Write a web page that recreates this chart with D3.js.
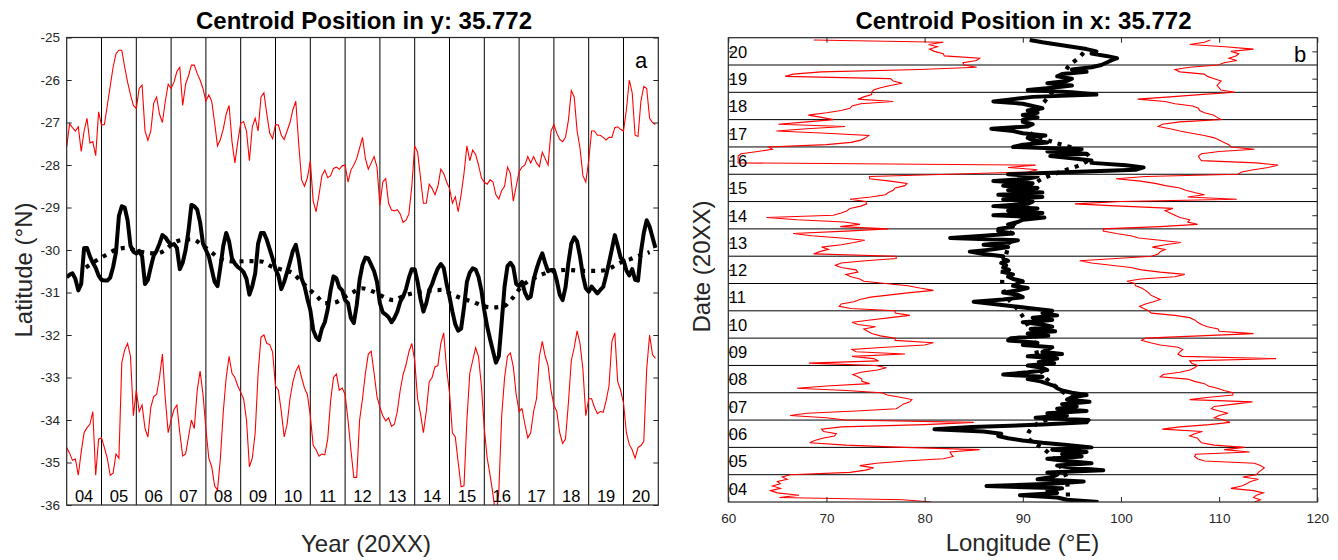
<!DOCTYPE html>
<html>
<head>
<meta charset="utf-8">
<script src="https://cdn.jsdelivr.net/npm/d3@7"></script>
<style>
  html, body { margin: 0; padding: 0; background: #fff; }
  svg { display: block; font-family: "Liberation Sans", Arial, Helvetica, sans-serif; }
</style>
</head>
<body>
<svg id="chart" width="1338" height="560"></svg>
<script>
// ---------------- data ----------------
const firstYear = 2004;
const lastYear = 2021;
const yearLabels = ["04","05","06","07","08","09","10","11","12","13","14","15","16","17","18","19","20"];
const latTicks = [-25, -26, -27, -28, -29, -30, -31, -32, -33, -34, -35, -36];
const lonTicks = [60, 70, 80, 90, 100, 110, 120];

// monthly latitude of the northern edge (°N), Jan 2004 .. Dec 2020
const northEdgeLat = [
  -27.57,-27.03,-27.12,-27.2,-27.1,-27.68,-27.2,-26.9,-27.48,-27.45,-27.78,-26.75,
  -27.06,-27.05,-26.6,-26.15,-25.7,-25.38,-25.3,-25.3,-25.7,-26.05,-26.35,-26.6,
  -26.67,-26.2,-26.12,-27.2,-27.42,-27.2,-26.55,-26.4,-26.8,-27.0,-26.5,-26.1,
  -26.2,-26.05,-25.8,-25.7,-26.6,-26.1,-25.9,-25.65,-25.65,-25.85,-26.0,-26.2,
  -26.5,-26.35,-26.5,-27.0,-27.55,-27.4,-27.15,-26.8,-26.6,-27.45,-27.95,-27.45,
  -27.02,-26.98,-27.2,-27.9,-27.1,-26.9,-27.2,-26.4,-26.3,-26.8,-27.25,-27.38,
  -27.05,-27.06,-27.3,-27.4,-27.2,-27.0,-26.7,-26.5,-27.5,-28.35,-28.5,-28.3,
  -27.9,-28.85,-29.1,-28.7,-28.25,-28.12,-28.3,-28.25,-28.08,-28.05,-28.1,-28.02,
  -28.0,-28.4,-28.12,-28.0,-27.85,-27.6,-27.35,-27.85,-28.1,-27.95,-27.8,-28.05,
  -28.95,-28.4,-28.32,-28.9,-29.06,-29.08,-29.05,-29.15,-29.35,-29.3,-29.15,-28.5,
  -27.55,-27.7,-28.3,-28.9,-28.9,-28.45,-28.55,-28.7,-28.5,-28.1,-28.2,-28.4,
  -28.55,-28.9,-28.75,-29.1,-28.7,-28.2,-27.55,-27.9,-27.65,-27.75,-28.0,-28.3,
  -28.4,-28.45,-28.35,-28.4,-28.7,-28.8,-28.6,-28.5,-28.05,-28.2,-28.85,-28.5,
  -28.15,-28.05,-28.0,-27.8,-27.95,-27.8,-27.95,-28.04,-27.7,-27.85,-28.0,-27.2,
  -27.05,-27.25,-27.4,-27.45,-27.35,-26.95,-26.25,-26.4,-27.2,-27.6,-28.25,-28.4,
  -27.9,-27.2,-27.2,-27.3,-27.3,-27.35,-27.41,-27.35,-27.35,-27.12,-27.1,-27.16,
  -27.2,-26.7,-26.0,-26.3,-27.3,-27.33,-26.5,-26.15,-26.2,-26.9,-27.0,-27.05
];

// monthly centroid latitude (°N)
const centroidLat = [
  -30.64,-30.58,-30.55,-30.68,-30.95,-30.8,-29.95,-29.95,-30.15,-30.3,-30.42,-30.6,
  -30.7,-30.72,-30.72,-30.65,-30.4,-30.05,-29.2,-28.97,-29.0,-29.3,-29.9,-30.04,
  -30.08,-30.02,-30.15,-30.8,-30.7,-30.4,-30.13,-30.02,-29.85,-29.65,-29.7,-29.8,
  -29.88,-29.86,-29.95,-30.45,-30.3,-30.0,-29.55,-28.94,-28.97,-29.05,-29.35,-29.85,
  -30.0,-30.15,-30.45,-30.75,-30.85,-30.4,-29.9,-29.6,-29.8,-30.2,-30.32,-30.4,
  -30.45,-30.52,-30.68,-31.05,-30.85,-30.55,-29.85,-29.6,-29.6,-29.76,-29.98,-30.2,
  -30.45,-30.6,-30.92,-30.75,-30.52,-30.28,-30.02,-29.88,-30.2,-30.67,-30.85,-31.15,
  -31.41,-31.88,-32.05,-32.12,-31.85,-31.7,-31.4,-30.95,-30.62,-30.67,-30.88,-30.95,
  -31.18,-31.25,-31.6,-31.72,-31.3,-30.7,-30.35,-30.18,-30.2,-30.35,-30.5,-30.75,
  -31.25,-31.47,-31.52,-31.58,-31.7,-31.6,-31.45,-31.22,-31.1,-30.92,-30.65,-30.45,
  -30.45,-30.75,-31.15,-31.45,-31.25,-30.95,-30.8,-30.6,-30.43,-30.33,-30.42,-30.8,
  -31.1,-31.45,-31.75,-31.9,-31.85,-31.35,-30.75,-30.53,-30.43,-30.46,-30.63,-30.95,
  -31.42,-31.8,-32.1,-32.38,-32.65,-32.5,-31.7,-30.85,-30.38,-30.3,-30.4,-30.8,
  -30.85,-30.75,-31.0,-31.14,-31.1,-30.7,-30.45,-30.24,-30.08,-30.31,-30.5,-30.47,
  -30.47,-30.72,-31.05,-31.18,-30.88,-30.3,-29.85,-29.7,-29.8,-30.15,-30.6,-30.9,
  -30.98,-30.86,-30.94,-31.02,-30.94,-30.87,-30.6,-30.3,-29.98,-29.65,-29.9,-30.18,
  -30.24,-30.48,-30.6,-30.45,-30.7,-30.72,-30.05,-29.6,-29.3,-29.45,-29.7,-29.95
];

// monthly latitude of the southern edge (°N)
const southEdgeLat = [
  -34.65,-34.78,-34.95,-34.92,-35.3,-34.75,-34.3,-34.18,-34.1,-33.8,-35.3,-34.45,
  -34.42,-34.65,-34.9,-35.3,-35.25,-34.8,-34.9,-32.65,-32.35,-32.2,-32.5,-33.9,
  -33.3,-33.8,-33.65,-34.2,-34.4,-33.7,-33.45,-33.4,-33.0,-32.45,-33.5,-34.3,
  -34.0,-33.75,-33.65,-34.3,-34.85,-34.8,-34.4,-34.0,-34.2,-33.3,-32.85,-33.4,
  -34.2,-34.9,-35.1,-35.55,-35.65,-34.9,-33.8,-33.0,-32.5,-32.9,-33.0,-33.2,
  -33.35,-33.5,-34.0,-35.1,-34.9,-34.3,-32.9,-32.05,-32.0,-32.2,-32.22,-32.4,
  -33.2,-33.3,-33.8,-34.4,-34.1,-33.5,-33.1,-32.85,-32.72,-33.0,-33.25,-33.4,
  -33.9,-34.6,-34.7,-34.85,-34.8,-34.82,-34.45,-33.55,-33.0,-32.92,-33.3,-33.25,
  -33.4,-34.0,-34.7,-35.35,-35.35,-34.0,-33.5,-32.9,-32.45,-32.38,-32.9,-33.45,
  -33.7,-33.9,-34.02,-33.95,-34.15,-34.1,-33.8,-33.3,-32.93,-32.7,-32.4,-32.2,
  -32.6,-33.5,-33.85,-34.3,-33.8,-33.1,-33.0,-32.75,-32.72,-32.2,-31.95,-32.8,
  -33.35,-34.3,-34.4,-35.0,-35.57,-35.55,-34.0,-32.9,-32.6,-32.3,-32.5,-33.2,
  -34.2,-34.9,-35.3,-35.75,-36.3,-35.7,-33.9,-33.0,-32.5,-32.42,-32.75,-33.4,
  -33.8,-33.73,-34.1,-34.42,-34.3,-33.8,-33.5,-32.5,-32.15,-32.5,-32.72,-33.3,
  -33.65,-33.8,-34.3,-34.55,-34.45,-33.6,-32.6,-32.3,-31.9,-32.2,-32.8,-33.9,
  -33.5,-33.5,-33.7,-33.85,-33.8,-33.82,-33.55,-33.2,-32.15,-31.95,-33.1,-33.3,
  -33.6,-34.3,-34.58,-34.7,-34.9,-34.65,-34.6,-34.5,-32.8,-32.0,-32.46,-32.55
];

// smoothed centroid latitude
const trendLatTime = [2004.55,2004.81,2005.10,2005.39,2005.68,2006.11,2006.59,2006.83,2007.06,2007.35,2007.62,2007.88,
  2008.17,2008.39,2008.79,2009.32,2009.60,2009.89,2010.21,2010.51,2010.70,2010.94,2011.18,2011.42,2011.68,2012.0,
  2012.26,2012.48,2012.81,2013.05,2013.39,2013.67,2014.2,2014.78,2015.06,2015.35,2015.68,2015.97,2016.26,2016.55,
  2016.79,2017.07,2017.51,2017.74,2018.03,2018.41,2018.80,2019.32,2019.61,2019.90,2020.18,2020.43,2020.75];
const trendLatVal = [-30.41,-30.27,-30.13,-30.0,-29.95,-30.04,-30.08,-30.0,-29.84,-29.76,-29.75,-29.88,
  -30.06,-30.2,-30.27,-30.26,-30.27,-30.39,-30.47,-30.55,-30.71,-30.9,-31.08,-31.25,-31.24,-31.1,
  -30.98,-30.9,-30.98,-31.08,-31.18,-31.08,-30.98,-30.94,-31.04,-31.14,-31.22,-31.32,-31.35,-31.33,
  -31.15,-30.86,-30.63,-30.55,-30.49,-30.47,-30.49,-30.49,-30.43,-30.3,-30.22,-30.14,-30.05];

// monthly longitude of the western edge (°E)
const westEdgeLon = [
  80.7,77.8,65.2,67.2,65.0,64.3,65.3,64.5,65.3,65.0,66.0,65.5,
  66.3,72.4,74.0,74.8,73.4,75.1,78.0,81.9,82.9,82.7,82.6,85.6,
  78.0,72.0,68.3,68.8,69.6,70.8,71.0,69.7,69.5,71.5,80.0,85.0,
  71.9,70.0,66.3,68.0,73.0,77.1,77.5,77.8,78.5,78.7,77.5,76.2,
  75.6,72.0,67.0,70.0,74.4,73.6,73.6,73.2,72.7,73.5,75.2,76.1,
  75.0,68.2,75.3,74.8,72.6,78.0,73.0,72.6,76.0,80.0,80.9,77.0,
  77.0,75.5,74.6,74.2,73.8,75.0,73.2,72.6,74.5,76.5,78.5,77.0,
  77.0,72.5,71.3,71.5,72.8,73.4,74.5,76.5,78.5,80.9,79.5,78.3,
  76.0,73.8,73.4,72.5,72.0,73.2,73.0,71.5,70.9,71.5,74.0,77.1,
  77.1,68.7,69.3,70.2,69.5,71.5,72.8,73.9,71.5,68.5,66.6,72.0,
  76.3,71.4,73.4,71.8,67.0,63.9,70.7,71.5,72.1,72.4,73.5,74.1,
  74.0,72.4,74.5,76.0,76.3,76.8,77.0,78.0,78.2,76.5,74.4,74.4,
  82.5,90.5,91.5,88.5,91.3,61.0,61.0,61.0,61.0,61.3,63.0,64.5,
  64.1,70.0,72.5,73.5,74.0,74.3,70.0,64.9,68.0,71.9,65.1,68.0,
  70.7,69.5,68.15,70.0,71.5,72.4,72.6,73.5,76.8,73.2,73.8,74.6,
  74.6,74.8,75.5,76.5,77.7,76.8,76.5,65.8,66.6,69.5,79.5,85.3,
  84.0,83.9,85.3,85.6,82.0,81.9,81.0,80.5,81.3,80.4,81.9,68.7
];

// monthly centroid longitude (°E)
const centroidLon = [
  97.7,94.5,93.5,89.7,93.5,92.5,94.0,86.3,93.0,96.2,91.5,93.0,
  93.5,92.5,98.2,95.0,93.5,97.0,94.5,92.5,96.0,94.0,96.5,93.0,
  97.0,94.5,92.0,90.0,88.5,87.5,87.8,86.0,81.0,84.8,92.0,96.5,
  96.7,91.3,94.5,92.5,96.5,93.5,95.5,94.0,96.8,94.5,95.0,96.5,
  95.0,94.0,93.5,93.2,92.5,91.8,90.5,92.0,88.0,90.5,92.5,92.0,
  90.5,93.2,92.0,93.5,90.5,94.0,92.0,92.5,93.0,90.0,91.5,88.5,
  88.8,92.6,90.5,93.3,90.8,93.0,92.0,90.0,93.0,91.0,93.5,92.0,
  93.0,91.0,89.0,87.0,85.0,88.0,90.0,89.5,88.0,89.5,90.5,89.0,
  89.5,90.0,89.0,88.5,89.0,88.0,88.6,88.0,88.3,87.8,88.5,88.0,
  88.0,86.0,84.6,87.0,88.5,86.0,88.5,89.5,82.6,86.0,89.0,87.5,
  87.5,89.0,88.5,89.5,90.0,92.2,87.0,92.0,88.5,91.5,87.0,90.5,
  91.0,88.0,92.0,87.5,92.0,88.5,91.5,88.0,91.0,87.0,90.5,91.5,
  88.5,95.0,101.5,102.3,100.5,97.0,97.0,95.0,92.8,96.5,92.5,96.0,
  89.0,90.0,92.5,91.0,90.5,92.3,90.0,89.0,86.8,90.5,91.0,90.0,
  90.0,91.5,90.0,91.5,90.5,92.0,91.0,90.0,87.0,89.0,91.0,97.5,
  95.0,90.5,93.0,95.0,92.5,94.5,95.0,93.5,94.0,96.5,95.0,97.0,
  98.0,98.5,99.0,99.6,98.5,97.0,97.5,96.5,95.0,93.5,92.0,90.7
];

// monthly longitude of the eastern edge (°E)
const eastEdgeLon = [
  113.6,114.2,113.5,113.8,114.5,113.5,111.2,112.3,112.8,113.2,114.0,112.4,
  113.8,114.0,114.3,114.6,114.2,113.6,108.5,107.8,107.5,107.6,113.1,110.5,
  112.6,109.5,108.2,108.0,107.8,107.0,107.5,108.3,104.2,106.0,109.0,111.1,
  110.5,109.5,110.0,110.9,110.0,109.2,109.5,111.5,113.4,107.0,109.0,111.4,
  111.4,110.5,109.8,108.9,108.5,107.5,106.8,104.0,104.3,106.0,107.0,107.5,
  107.8,107.2,107.0,115.8,106.2,105.8,106.0,106.3,105.8,104.0,103.0,102.1,
  102.5,108.0,113.5,110.0,109.9,108.8,108.2,107.8,107.5,107.0,105.5,103.1,
  102.8,102.3,101.9,102.5,103.3,104.0,103.5,103.0,102.8,102.5,102.1,101.5,
  101.4,100.6,102.0,105.5,106.5,104.0,102.1,101.0,99.0,97.0,95.8,99.5,
  103.1,103.8,104.0,104.5,103.2,104.5,106.1,104.0,101.8,101.0,99.5,98.2,
  98.2,104.0,107.8,106.8,107.0,106.0,105.5,105.0,104.5,105.3,100.0,95.3,
  100.0,111.8,106.8,108.5,107.5,106.6,106.0,104.5,103.5,102.0,99.5,102.5,
  111.9,112.3,113.5,115.0,116.0,113.8,108.2,108.0,107.9,108.2,110.0,113.6,
  111.2,111.0,110.5,110.0,109.5,108.5,107.2,106.0,105.0,103.8,104.2,106.0,
  110.2,109.8,109.4,108.5,108.0,107.9,107.3,105.5,104.5,101.7,105.0,108.0,
  111.6,110.2,110.0,109.8,110.0,110.2,109.5,108.8,108.5,106.0,105.5,107.0,
  109.9,110.5,111.8,111.0,111.7,112.0,111.2,113.5,110.6,107.0,108.5,109.1
];

// smoothed centroid longitude
const trendLonTime = [2004.2,2004.8,2005.4,2005.9,2006.4,2006.8,2007.3,2007.7,2008.1,2008.6,2009.2,2009.8,
  2010.4,2011.0,2011.5,2012.0,2012.6,2013.2,2013.8,2014.4,2015.0,2015.5,2015.8,2016.1,2016.35,2016.6,
  2016.85,2017.2,2017.5,2017.8,2018.2,2018.7,2019.0,2019.5,2020.0,2020.3,2020.55];
const trendLonVal = [94.6,94.5,93.6,92.3,90.5,91.2,94.3,95.2,93.8,92.2,91.6,91.2,
  90.6,89.6,88.4,87.9,88.0,88.4,88.8,89.4,90.2,90.9,91.8,93.9,95.9,96.8,
  96.0,92.9,90.8,90.5,91.2,92.3,93.0,93.9,94.8,95.8,96.4];

// ---------------- drawing ----------------
const svg = d3.select("#chart");
const ink = "#262626";
const FONT = '"Liberation Sans", Arial, Helvetica, sans-serif';
const monthTime = i => firstYear + i / 12;
const boundaries = d3.range(firstYear + 1, lastYear);   // internal year borders
const yearStarts = d3.range(firstYear, lastYear);

function styleAxis(g, size) {
  g.attr("font-family", FONT).attr("font-size", size);
  g.select(".domain").remove();
  g.selectAll(".tick line").attr("stroke", ink);
  g.selectAll(".tick text").attr("fill", ink);
}

// ===== Panel a : latitude vs year =====
const A = { left: 66.7, right: 658.3, top: 37.5, bottom: 505 };
const xA = d3.scaleLinear().domain([firstYear, lastYear]).range([A.left, A.right]);
const yA = d3.scaleLinear().domain([-25, -36]).range([A.top, A.bottom]);

svg.append("clipPath").attr("id", "clipA").append("rect")
  .attr("x", A.left).attr("y", A.top).attr("width", A.right - A.left).attr("height", A.bottom - A.top);

const gA = svg.append("g");
gA.selectAll("line.yr").data(boundaries).join("line")
  .attr("x1", d => xA(d)).attr("x2", d => xA(d))
  .attr("y1", A.top).attr("y2", A.bottom)
  .attr("stroke", "#000").attr("stroke-width", 1);

const lineA = d3.line().x((d, i) => xA(monthTime(i))).y(d => yA(d));
const plotA = gA.append("g").attr("clip-path", "url(#clipA)");
plotA.append("path").attr("d", lineA(northEdgeLat)).attr("fill", "none").attr("stroke", "#ff0000").attr("stroke-width", 1.1);
plotA.append("path").attr("d", lineA(southEdgeLat)).attr("fill", "none").attr("stroke", "#ff0000").attr("stroke-width", 1.1);
plotA.append("path")
  .attr("d", d3.line().curve(d3.curveMonotoneX).x(d => xA(d[0])).y(d => yA(d[1]))(d3.zip(trendLatTime, trendLatVal)))
  .attr("fill", "none").attr("stroke", "#000").attr("stroke-width", 4.2).attr("stroke-dasharray", "4 6");
plotA.append("path").attr("d", lineA(centroidLat)).attr("fill", "none").attr("stroke", "#000")
  .attr("stroke-width", 4).attr("stroke-linejoin", "round");

gA.selectAll("text.yl").data(yearStarts).join("text")
  .attr("x", d => xA(d + 0.5)).attr("y", A.bottom - 3.4)
  .attr("text-anchor", "middle").attr("font-family", FONT).attr("font-size", 16.5).attr("fill", "#000")
  .text((d, i) => yearLabels[i]);

gA.append("g").attr("transform", `translate(${A.left},0)`)
  .call(d3.axisLeft(yA).tickValues(latTicks).tickFormat(d => String(d)).tickSizeInner(-5).tickSizeOuter(0).tickPadding(6.7))
  .call(g => styleAxis(g, 13.5));
gA.append("g").attr("transform", `translate(${A.right},0)`)
  .call(d3.axisRight(yA).tickValues(latTicks).tickFormat("").tickSizeInner(-5).tickSizeOuter(0))
  .call(g => styleAxis(g, 13.5));

gA.append("rect").attr("x", A.left).attr("y", A.top).attr("width", A.right - A.left).attr("height", A.bottom - A.top)
  .attr("fill", "none").attr("stroke", ink).attr("stroke-width", 1.2);

svg.append("text").attr("x", 364).attr("y", 29.3).attr("text-anchor", "middle")
  .attr("font-family", FONT).attr("font-weight", "bold").attr("font-size", 24).attr("fill", "#000")
  .text("Centroid Position in y: 35.772");
svg.append("text").attr("x", 641).attr("y", 68.3).attr("text-anchor", "middle")
  .attr("font-family", FONT).attr("font-size", 22).attr("fill", "#000").text("a");
svg.append("text").attr("x", 366).attr("y", 552).attr("text-anchor", "middle")
  .attr("font-family", FONT).attr("font-size", 24).attr("fill", ink).text("Year (20XX)");
svg.append("text").attr("transform", "translate(31.5,270) rotate(-90)").attr("text-anchor", "middle")
  .attr("font-family", FONT).attr("font-size", 24).attr("fill", ink).text("Latitude (°N)");

// ===== Panel b : longitude vs date =====
const B = { left: 728.3, right: 1317.3, top: 37.7, bottom: 502 };
const xB = d3.scaleLinear().domain([60, 120]).range([B.left, B.right]);
const yB = d3.scaleLinear().domain([firstYear, lastYear]).range([B.bottom, B.top]);

svg.append("clipPath").attr("id", "clipB").append("rect")
  .attr("x", B.left).attr("y", B.top).attr("width", B.right - B.left).attr("height", B.bottom - B.top);

const gB = svg.append("g");
gB.selectAll("line.yr").data(boundaries).join("line")
  .attr("x1", B.left).attr("x2", B.right)
  .attr("y1", d => yB(d)).attr("y2", d => yB(d))
  .attr("stroke", "#000").attr("stroke-width", 1);

const lineB = d3.line().x(d => xB(d)).y((d, i) => yB(monthTime(i)));
const plotB = gB.append("g").attr("clip-path", "url(#clipB)");
plotB.append("path").attr("d", lineB(westEdgeLon)).attr("fill", "none").attr("stroke", "#ff0000").attr("stroke-width", 1.1);
plotB.append("path").attr("d", lineB(eastEdgeLon)).attr("fill", "none").attr("stroke", "#ff0000").attr("stroke-width", 1.1);
plotB.append("path")
  .attr("d", d3.line().curve(d3.curveMonotoneY).x(d => xB(d[1])).y(d => yB(d[0]))(d3.zip(trendLonTime, trendLonVal)))
  .attr("fill", "none").attr("stroke", "#000").attr("stroke-width", 4.2).attr("stroke-dasharray", "4 6");
plotB.append("path").attr("d", lineB(centroidLon)).attr("fill", "none").attr("stroke", "#000")
  .attr("stroke-width", 4).attr("stroke-linejoin", "round");

gB.selectAll("text.yl").data(yearStarts).join("text")
  .attr("x", B.left + 0.5).attr("y", d => yB(d + 0.5) + 6.3)
  .attr("font-family", FONT).attr("font-size", 16.5).attr("fill", "#000")
  .text((d, i) => yearLabels[i]);

const midYears = yearStarts.map(d => d + 0.5);
gB.append("g").attr("transform", `translate(0,${B.bottom})`)
  .call(d3.axisBottom(xB).tickValues(lonTicks).tickFormat(d => String(d)).tickSizeInner(-5).tickSizeOuter(0).tickPadding(11.3))
  .call(g => styleAxis(g, 13.5));
gB.append("g").attr("transform", `translate(0,${B.top})`)
  .call(d3.axisTop(xB).tickValues(lonTicks).tickFormat("").tickSizeInner(-5).tickSizeOuter(0))
  .call(g => styleAxis(g, 13.5));
gB.append("g").attr("transform", `translate(${B.left},0)`)
  .call(d3.axisLeft(yB).tickValues(midYears).tickFormat("").tickSizeInner(-5).tickSizeOuter(0))
  .call(g => styleAxis(g, 13.5));
gB.append("g").attr("transform", `translate(${B.right},0)`)
  .call(d3.axisRight(yB).tickValues(midYears).tickFormat("").tickSizeInner(-5).tickSizeOuter(0))
  .call(g => styleAxis(g, 13.5));

gB.append("rect").attr("x", B.left).attr("y", B.top).attr("width", B.right - B.left).attr("height", B.bottom - B.top)
  .attr("fill", "none").attr("stroke", ink).attr("stroke-width", 1.2);

svg.append("text").attr("x", 1023.5).attr("y", 29.3).attr("text-anchor", "middle")
  .attr("font-family", FONT).attr("font-weight", "bold").attr("font-size", 24).attr("fill", "#000")
  .text("Centroid Position in x: 35.772");
svg.append("text").attr("x", 1294).attr("y", 62.3)
  .attr("font-family", FONT).attr("font-size", 22).attr("fill", "#000").text("b");
svg.append("text").attr("x", 1022.5).attr("y", 551).attr("text-anchor", "middle")
  .attr("font-family", FONT).attr("font-size", 24).attr("fill", ink).text("Longitude (°E)");
svg.append("text").attr("transform", "translate(710,266.5) rotate(-90)").attr("text-anchor", "middle")
  .attr("font-family", FONT).attr("font-size", 24).attr("fill", ink).text("Date (20XX)");
</script>
</body>
</html>
